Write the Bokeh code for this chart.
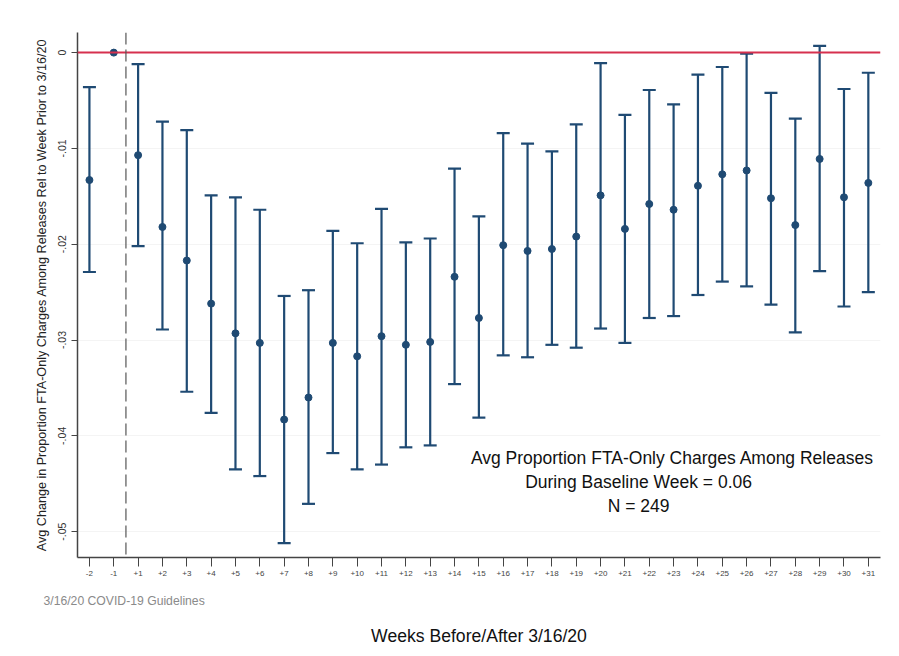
from bokeh.plotting import figure
from bokeh.models import ColumnDataSource, Whisker, TeeHead, Span, Label, FixedTicker, Title, LinearAxis
from bokeh.embed import file_html
from bokeh.resources import INLINE

# week labels relative to 3/16/20 (no week 0)
week_labels = ["-2", "-1"] + ["+%d" % i for i in range(1, 32)]
week_pos = list(range(len(week_labels)))

# avg change in proportion FTA-only charges (ref week -1 = 0)
means = [-0.0133, 0.0, -0.0107, -0.0182, -0.0217, -0.0262, -0.0293, -0.0303, -0.0383, -0.0360,
         -0.0303, -0.0317, -0.0296, -0.0305, -0.0302, -0.0234, -0.0277, -0.0201, -0.0207, -0.0205,
         -0.0192, -0.0149, -0.0184, -0.0158, -0.0164, -0.0139, -0.0127, -0.0123, -0.0152, -0.0180,
         -0.0111, -0.0151, -0.0136]
ci_low = [-0.0229, None, -0.0202, -0.0289, -0.0354, -0.0376, -0.0435, -0.0442, -0.0512, -0.0471,
          -0.0418, -0.0435, -0.0430, -0.0412, -0.0410, -0.0346, -0.0381, -0.0316, -0.0318, -0.0305,
          -0.0308, -0.0288, -0.0303, -0.0277, -0.0275, -0.0253, -0.0239, -0.0244, -0.0263, -0.0292,
          -0.0228, -0.0265, -0.0250]
ci_high = [-0.0036, None, -0.0012, -0.0072, -0.0081, -0.0149, -0.0151, -0.0164, -0.0254, -0.0248,
           -0.0186, -0.0199, -0.0163, -0.0198, -0.0194, -0.0121, -0.0171, -0.0084, -0.0095, -0.0103,
           -0.0075, -0.0011, -0.0065, -0.0039, -0.0054, -0.0023, -0.0015, -0.0001, -0.0042, -0.0069,
           0.0007, -0.0038, -0.0021]

y_ticks = [0, -0.01, -0.02, -0.03, -0.04, -0.05]
y_tick_labels = ["0", "-.01", "-.02", "-.03", "-.04", "-.05"]

note_lines = ["Avg Proportion FTA-Only Charges Among Releases",
              "During Baseline Week = 0.06",
              "N = 249"]

navy = "#1f4a73"
font = "Liberation Sans"

p = figure(width=891, height=648, output_backend="svg", toolbar_location=None,
           x_range=(-0.49, 32.5), y_range=(-0.0527, 0.0021),
           min_border_left=77, min_border_right=11, min_border_top=32, min_border_bottom=90)
p.outline_line_color = None
p.background_fill_color = "white"
p.border_fill_color = "white"
p.xgrid.grid_line_color = None
p.ygrid.ticker = FixedTicker(ticks=y_ticks)
p.ygrid.grid_line_color = "#f4f4f4"

# axes
p.xaxis.ticker = FixedTicker(ticks=week_pos)
p.xaxis.major_label_overrides = {i: lab for i, lab in zip(week_pos, week_labels)}
p.xaxis.major_label_text_font = font
p.xaxis.major_label_text_font_size = "8px"
p.xaxis.major_label_text_color = "#444444"
p.xaxis.major_label_standoff = 4
p.xaxis.major_tick_out = 9
p.xaxis.major_tick_in = 0
p.xaxis.minor_tick_line_color = None
p.xaxis.axis_line_color = "#444444"
p.xaxis.major_tick_line_color = "#444444"
p.xaxis.axis_line_width = 1.5

p.yaxis.ticker = FixedTicker(ticks=y_ticks)
p.yaxis.major_label_overrides = {t: lab for t, lab in zip(y_ticks, y_tick_labels)}
p.yaxis.major_label_orientation = "vertical"
p.yaxis.axis_label = "Avg Change in Proportion FTA-Only Charges Among Releases Rel to Week Prior to 3/16/20"
p.yaxis.axis_label_text_font = font
p.yaxis.axis_label_text_font_size = "12.6px"
p.yaxis.axis_label_text_font_style = "normal"
p.yaxis.axis_label_text_color = "#222222"
p.yaxis.axis_label_standoff = 7
p.yaxis.major_label_text_font = font
p.yaxis.major_label_text_font_size = "10.5px"
p.yaxis.major_label_text_color = "#333333"
p.yaxis.major_label_standoff = 5
p.yaxis.major_tick_out = 6
p.yaxis.major_tick_in = 0
p.yaxis.minor_tick_line_color = None
p.yaxis.axis_line_color = "#444444"
p.yaxis.major_tick_line_color = "#444444"
p.yaxis.axis_line_width = 1.5

# caption for the dashed line, then the x axis title (label-only axis)
p.add_layout(Title(text="3/16/20 COVID-19 Guidelines", align="left", offset=-34,
                   text_font=font, text_font_size="12.2px", text_font_style="normal",
                   text_color="#8a8a8a", vertical_align="top", standoff=31), "below")
title_axis = LinearAxis(ticker=FixedTicker(ticks=[]), axis_line_color=None,
                        major_tick_line_color=None, minor_tick_line_color=None,
                        major_tick_out=0, major_tick_in=0, major_label_standoff=0,
                        major_label_text_font_size="0px",
                        axis_label="Weeks Before/After 3/16/20", axis_label_standoff=0,
                        axis_label_text_font=font, axis_label_text_font_size="17.6px",
                        axis_label_text_font_style="normal", axis_label_text_color="#111111")
p.add_layout(title_axis, "below")

# reference lines
p.add_layout(Span(location=0, dimension="width", line_color="#d6304e", line_width=2))
p.add_layout(Span(location=1.5, dimension="height", line_color="#555555", line_width=1.2,
                  line_dash="12 5"))

# confidence intervals (reference week has none)
keep = [i for i in week_pos if ci_low[i] is not None]
ci_src = ColumnDataSource(data=dict(x=[week_pos[i] for i in keep],
                                    lo=[ci_low[i] for i in keep],
                                    hi=[ci_high[i] for i in keep]))
p.add_layout(Whisker(base="x", lower="lo", upper="hi", source=ci_src,
                     line_color=navy, line_width=2.2,
                     upper_head=TeeHead(size=13, line_color=navy, line_width=2.2),
                     lower_head=TeeHead(size=13, line_color=navy, line_width=2.2)))

pt_src = ColumnDataSource(data=dict(x=week_pos, y=means))
p.scatter("x", "y", source=pt_src, size=7, color=navy)

# notes
note_x = [23.95, 22.56, 22.56]
note_y = [-0.0423, -0.0448, -0.0473]
for tx, ty, line in zip(note_x, note_y, note_lines):
    p.add_layout(Label(x=tx, y=ty, text=line, text_align="center",
                       text_baseline="middle", text_font=font, text_font_size="17.5px",
                       text_color="#111111"))

open("out.html", "w").write(file_html(p, INLINE))
